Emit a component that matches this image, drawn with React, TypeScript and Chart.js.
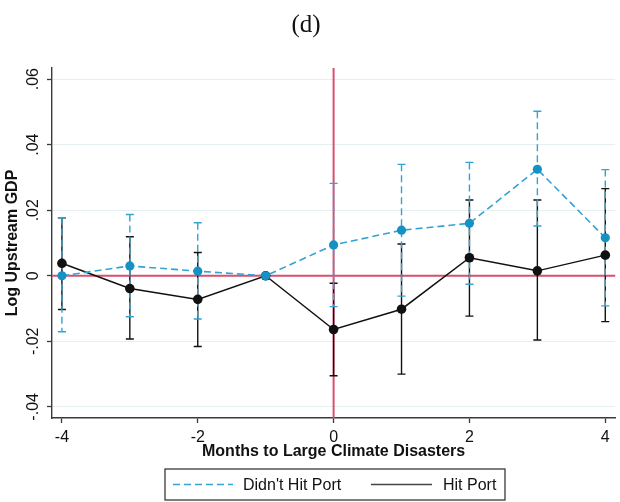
import React, { useEffect, useRef } from "react";
import { Chart, registerables } from "chart.js";

Chart.register(...registerables);

// Event-study estimates: months relative to the disaster
const months = [-4, -3, -2, -1, 0, 1, 2, 3, 4];

// Didn't Hit Port: point estimates and 95% CI bounds (-1 is the omitted month)
const notHitEst = [0, 0.003, 0.0014, 0, 0.0094, 0.0139, 0.016, 0.0325, 0.0116];
const notHitLo = [-0.0171, -0.0125, -0.0132, null, -0.0094, -0.0062, -0.0026, 0.0152, -0.0092];
const notHitHi = [0.0177, 0.0187, 0.0162, null, 0.0282, 0.034, 0.0346, 0.0502, 0.0324];

// Hit Port
const hitEst = [0.0038, -0.0039, -0.0072, 0, -0.0164, -0.0102, 0.0055, 0.0015, 0.0063];
const hitLo = [-0.0103, -0.0193, -0.0216, null, -0.0305, -0.03, -0.0123, -0.0196, -0.014];
const hitHi = [0.0177, 0.0119, 0.0071, null, -0.0023, 0.0097, 0.0231, 0.0231, 0.0266];

const xTickValues = [-4, -2, 0, 2, 4];
const yTickValues = [-0.04, -0.02, 0, 0.02, 0.04, 0.06];
const yTickLabels = ["-.04", "-.02", "0", ".02", ".04", ".06"];

const seriesNames = ["Didn't Hit Port", "Hit Port"];
const panelTitle = "(d)";
const xTitle = "Months to Large Climate Disasters";
const yTitle = "Log Upstream GDP";

const BLUE = "#1592c4";
const BLUE_LINE = "#33a3d2";
const BLACK = "#111111";
const RED = "#da4f70";
const AXIS = "#3a3a3a";
const GRID = "#e5eef0";
const SANS = "'Liberation Sans', Arial, sans-serif";

const W = 620;
const H = 502;

function drawCI(ctx: CanvasRenderingContext2D, chart: any, lo: (number | null)[], hi: (number | null)[], color: string, dash: number[]) {
  const xs = chart.scales.x;
  const ys = chart.scales.y;
  ctx.save();
  ctx.strokeStyle = color;
  ctx.lineWidth = 1.4;
  months.forEach((m, i) => {
    const l = lo[i];
    const h = hi[i];
    if (l == null || h == null) return;
    const x = xs.getPixelForValue(m);
    const y1 = ys.getPixelForValue(l);
    const y2 = ys.getPixelForValue(h);
    ctx.setLineDash(dash);
    ctx.beginPath();
    ctx.moveTo(x, y2);
    ctx.lineTo(x, y1);
    ctx.stroke();
    ctx.setLineDash([]);
    ctx.beginPath();
    ctx.moveTo(x - 4, y1);
    ctx.lineTo(x + 4, y1);
    ctx.moveTo(x - 4, y2);
    ctx.lineTo(x + 4, y2);
    ctx.stroke();
  });
  ctx.restore();
}

const decorPlugin = {
  id: "decor",
  beforeDatasetsDraw(chart: any) {
    const ctx = chart.ctx as CanvasRenderingContext2D;
    const { left, right, top, bottom } = chart.chartArea;
    const xs = chart.scales.x;
    const ys = chart.scales.y;
    // reference lines at zero
    ctx.save();
    ctx.strokeStyle = RED;
    ctx.lineWidth = 2;
    const x0 = xs.getPixelForValue(0);
    const y0 = ys.getPixelForValue(0);
    ctx.beginPath();
    ctx.moveTo(x0, top);
    ctx.lineTo(x0, bottom);
    ctx.moveTo(left, y0);
    ctx.lineTo(right, y0);
    ctx.stroke();
    ctx.restore();
    drawCI(ctx, chart, hitLo, hitHi, BLACK, []);
    drawCI(ctx, chart, notHitLo, notHitHi, BLUE_LINE, [7, 4]);
  },
  afterDraw(chart: any) {
    const ctx = chart.ctx as CanvasRenderingContext2D;
    const { left, right, top, bottom } = chart.chartArea;
    const ys = chart.scales.y;
    const cx = (left + right) / 2;
    ctx.save();
    ctx.fillStyle = "#111";

    // panel title
    ctx.font = `25px 'Liberation Serif', 'Times New Roman', serif`;
    ctx.textAlign = "center";
    ctx.textBaseline = "middle";
    ctx.fillText(panelTitle, 306, 25);

    // y tick labels, rotated
    ctx.font = `16px ${SANS}`;
    yTickValues.forEach((v, i) => {
      const y = ys.getPixelForValue(v);
      ctx.save();
      ctx.translate(34, y);
      ctx.rotate(-Math.PI / 2);
      ctx.textAlign = "center";
      ctx.textBaseline = "middle";
      ctx.fillText(yTickLabels[i], 0, 0);
      ctx.restore();
    });

    // y axis title
    ctx.font = `bold 16px ${SANS}`;
    ctx.save();
    ctx.translate(13, (top + bottom) / 2);
    ctx.rotate(-Math.PI / 2);
    ctx.textAlign = "center";
    ctx.textBaseline = "middle";
    ctx.fillText(yTitle, 0, 0);
    ctx.restore();

    // x axis title
    ctx.textAlign = "center";
    ctx.textBaseline = "middle";
    ctx.fillText(xTitle, cx, 452);

    // legend box
    const bx = 165;
    const by = 469;
    const bw = 340;
    const bh = 31;
    ctx.strokeStyle = AXIS;
    ctx.lineWidth = 1.3;
    ctx.strokeRect(bx, by, bw, bh);
    const ly = by + bh / 2;
    ctx.lineWidth = 1.6;
    ctx.strokeStyle = BLUE_LINE;
    ctx.setLineDash([7, 4]);
    ctx.beginPath();
    ctx.moveTo(173, ly);
    ctx.lineTo(233, ly);
    ctx.stroke();
    ctx.setLineDash([]);
    ctx.strokeStyle = "#444";
    ctx.beginPath();
    ctx.moveTo(371, ly);
    ctx.lineTo(432, ly);
    ctx.stroke();
    ctx.font = `16px ${SANS}`;
    ctx.textAlign = "left";
    ctx.fillStyle = "#111";
    ctx.fillText(seriesNames[0], 243, ly + 1);
    ctx.fillText(seriesNames[1], 443, ly + 1);
    ctx.restore();
  },
};

export default function App() {
  const canvasRef = useRef<HTMLCanvasElement | null>(null);

  useEffect(() => {
    const canvas = canvasRef.current;
    if (!canvas) return;
    const chart = new Chart(canvas, {
      type: "line",
      data: {
        datasets: [
          {
            label: seriesNames[0],
            data: months.map((m, i) => ({ x: m, y: notHitEst[i] })),
            borderColor: BLUE_LINE,
            backgroundColor: BLUE,
            borderWidth: 1.6,
            borderDash: [7, 4],
            pointRadius: 4.6,
            pointBorderWidth: 0,
            pointBackgroundColor: BLUE,
            tension: 0,
          },
          {
            label: seriesNames[1],
            data: months.map((m, i) => ({ x: m, y: hitEst[i] })),
            borderColor: BLACK,
            backgroundColor: BLACK,
            borderWidth: 1.5,
            pointRadius: 4.8,
            pointBorderWidth: 0,
            pointBackgroundColor: BLACK,
            tension: 0,
          },
        ],
      },
      options: {
        responsive: false,
        animation: false,
        devicePixelRatio: 1,
        layout: { padding: { top: 68, right: 2, left: 0, bottom: 0 } },
        plugins: {
          legend: { display: false },
          tooltip: { enabled: false },
          title: { display: false },
        },
        scales: {
          x: {
            type: "linear",
            min: -4.146,
            max: 4.146,
            afterBuildTicks: (scale: any) => {
              scale.ticks = xTickValues.map((v) => ({ value: v }));
            },
            afterFit: (scale: any) => {
              scale.height = H - 418;
            },
            ticks: {
              color: "#111",
              font: { family: SANS, size: 16 },
              padding: 5,
              maxRotation: 0,
              callback: (v: any) => String(v),
            },
            grid: {
              drawOnChartArea: false,
              drawTicks: true,
              tickLength: 5,
              tickColor: AXIS,
              tickWidth: 1.3,
            },
            border: { display: true, color: AXIS, width: 1.4 },
          },
          y: {
            type: "linear",
            min: -0.0434,
            max: 0.0634,
            afterBuildTicks: (scale: any) => {
              scale.ticks = yTickValues.map((v) => ({ value: v }));
            },
            afterFit: (scale: any) => {
              scale.width = 52;
            },
            ticks: { display: false },
            grid: {
              color: GRID,
              lineWidth: 1,
              drawTicks: true,
              tickLength: 5,
              tickColor: AXIS,
              tickWidth: 1.3,
            },
            border: { display: true, color: AXIS, width: 1.4 },
          },
        },
      },
      plugins: [decorPlugin],
    });
    return () => chart.destroy();
  }, []);

  return (
    <div style={{ position: "fixed", left: 0, top: 0, width: W, height: H, background: "#fff" }}>
      <canvas ref={canvasRef} width={W} height={H} style={{ display: "block" }} />
    </div>
  );
}
